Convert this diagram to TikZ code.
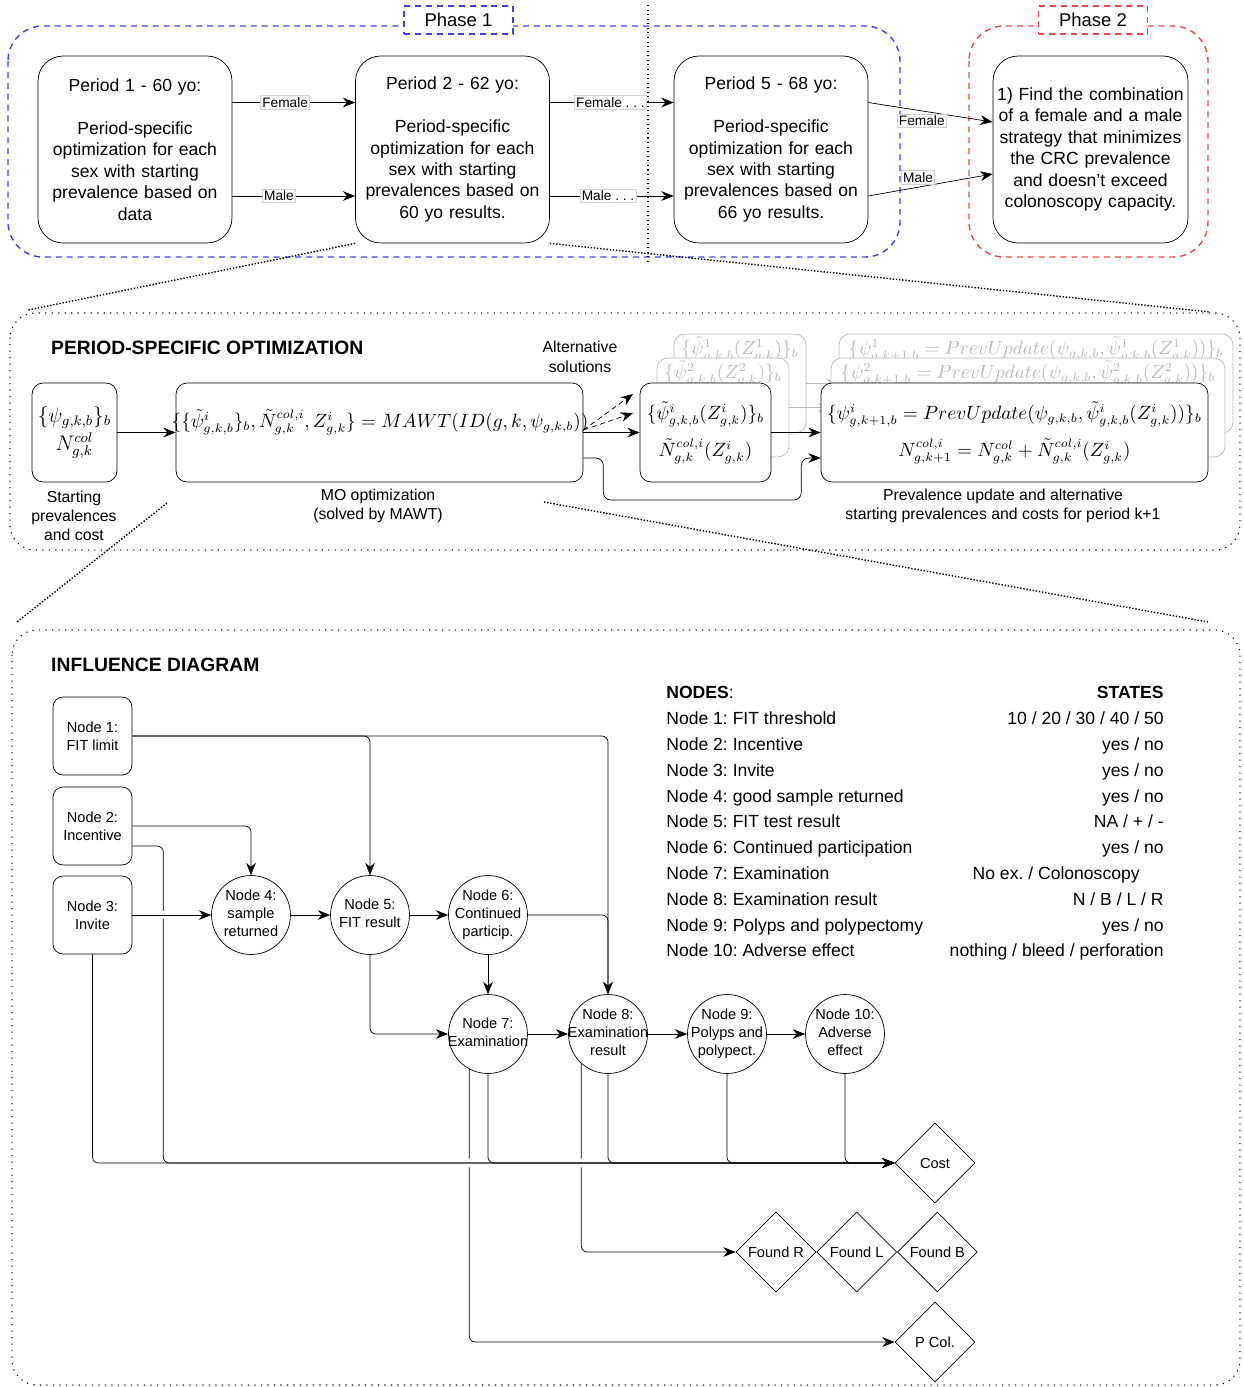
\documentclass[tikz,border=0pt]{standalone}
\usepackage[no-math]{fontspec}
\setmainfont{Liberation Sans}
\usetikzlibrary{shapes.geometric,arrows.meta,positioning}
\frenchspacing

\definecolor{phaseblue}{RGB}{64,64,235}
\definecolor{phasered}{RGB}{235,72,72}
\newcommand{\ctxt}[1]{\makebox[0pt]{\begin{tabular}{@{}c@{}}#1\end{tabular}}}

\begin{document}
\begin{tikzpicture}[x=0.02cm,y=-0.02cm,
  >={Stealth[length=7pt,width=5.5pt]},
  every node/.style={font=\fontsize{10}{12.2}\selectfont},
  period/.style={draw,rounded corners=0.5cm,minimum width=3.88cm,minimum height=3.74cm,text width=3.6cm,align=center},
  tag/.style={fill=white,draw=gray!35,inner sep=1pt,font=\fontsize{7.8}{9}\selectfont},
  phasebox/.style={dash pattern=on 3.4pt off 2.8pt,rounded corners=0.7cm,thick},
  phasetag/.style={draw,dash pattern=on 3.4pt off 2.8pt,thick,fill=white,minimum width=2.18cm,minimum height=0.56cm,font=\fontsize{10.5}{12}\selectfont},
  frame/.style={dash pattern=on 0.1pt off 3.6pt,line cap=round,thick,rounded corners=0.5cm},
  zoomline/.style={densely dotted,thick},
  mbox/.style={draw,rounded corners=0.22cm,minimum height=1.98cm,fill=white,align=center},
  ghost/.style={mbox,draw=gray!55},
  eq/.style={font=\fontsize{10.7}{21}\selectfont},
  capt/.style={align=center,font=\fontsize{9}{11}\selectfont},
  title/.style={anchor=west,font=\bfseries\fontsize{11}{13}\selectfont},
  inode/.style={draw,rounded corners=0.2cm,minimum width=1.58cm,minimum height=1.56cm,align=center,font=\fontsize{8.3}{10.2}\selectfont},
  cnode/.style={draw,circle,minimum size=1.58cm,inner sep=0pt,font=\fontsize{8.3}{10.2}\selectfont},
  dnode/.style={draw,diamond,minimum size=1.6cm,inner sep=0pt,font=\fontsize{8.3}{10.2}\selectfont},
  wire/.style={->,rounded corners=0.12cm},
  gap/.style={preaction={draw=white,line width=5pt,-,shorten <=8pt,shorten >=12pt}},
  nrow/.style={anchor=base west,inner sep=0pt},
  stval/.style={anchor=base east,inner sep=0pt}
]
\useasboundingbox (0,0) rectangle (1244,1387);

% --- Phase 1 / Phase 2 ---
\draw[phasebox,draw=phaseblue] (8,26) rectangle (900,257);
\draw[phasebox,draw=phasered] (969,26) rectangle (1208,257);
\node[phasetag,draw=phaseblue] (ph1) at (458.5,20) {Phase 1};
\node[phasetag,draw=phasered] (ph2) at (1093,20) {Phase 2};
\draw[dotted,semithick] (648,5) -- (648,265);

\node[period] (p1) at (135,149.5) {Period 1 - 60 yo:\\[12.2pt]Period-specific\\optimization for each\\sex with starting\\prevalence based on\\data};
\node[period] (p2) at (452.5,149.5) {Period 2 - 62 yo:\\[12.2pt]Period-specific\\optimization for each\\sex with starting\\prevalences based on\\60 yo results.};
\node[period] (p5) at (771,149.5) {Period 5 - 68 yo:\\[12.2pt]Period-specific\\optimization for each\\sex with starting\\prevalences based on\\66 yo results.};
\node[period,text width=3.75cm,inner sep=2pt,minimum width=3.9cm] (goal) at (1090.5,149.5) {1) Find the combination\\of a female and a male\\strategy that minimizes\\the CRC prevalence\\and doesn't exceed\\colonoscopy capacity.};

\draw[->] ([yshift=0.94cm]p1.east) -- node[tag,pos=0.43] (f12) {Female} ([yshift=0.94cm]p2.west);
\draw[->] ([yshift=-0.93cm]p1.east) -- node[tag,pos=0.38] (m12) {Male} ([yshift=-0.93cm]p2.west);
\draw[->] ([yshift=0.94cm]p2.east) -- node[tag,pos=0.49] (f25) {Female . . .} ([yshift=0.94cm]p5.west);
\draw[->] ([yshift=-0.93cm]p2.east) -- node[tag,pos=0.47] (m25) {Male . . .} ([yshift=-0.93cm]p5.west);
\draw[->] ([yshift=0.94cm]p5.east) -- node[tag,pos=0.43,yshift=-0.2cm] (fgoal) {Female} ([yshift=0.55cm]goal.west);
\draw[->] ([yshift=-0.93cm]p5.east) -- node[tag,pos=0.4,yshift=0.2cm] (mgoal) {Male} ([yshift=-0.49cm]goal.west);

% --- zoom ---
\draw[zoomline] (p2.south west) -- (28,310);
\draw[zoomline] (p2.south east) -- (1210,312);

% --- Period-specific optimization ---
\draw[frame] (10,313) rectangle (1240,550);
\node[title] (psotitle) at (45,348) {PERIOD-SPECIFIC OPTIMIZATION};
\node[capt] (altcap) at (580,357) {Alternative\\solutions};

\node[mbox,minimum width=1.66cm,font=\fontsize{11.5}{16}\selectfont] (start) at (74.5,432.5) {$\{\psi_{g,k,b}\}_b$\\$N^{col}_{g,k}$};
\node[capt] (startcap) at (74,516) {Starting\\prevalences\\and cost};

\node[mbox,minimum width=8.14cm] (mo) at (379.5,432.5) {};
\node[eq] (moeq) at (380,422) {$\{\{\tilde{\psi}^{i}_{g,k,b}\}_b,\tilde{N}^{col,i}_{g,k},Z^i_{g,k}\}=MAWT(ID(g,k,\psi_{g,k,b}))$};
\node[capt] (mocap) at (378,506) {MO optimization\\(solved by MAWT)};

% alternative soluzioni (in grigio)
\node[ghost,minimum width=2.64cm] (sol1) at (740,383.5) {};
\node[eq,text=gray!55] (sol1eq) at (740,349) {$\{\tilde{\psi}^{1}_{g,k,b}(Z^1_{g,k})\}_b$};
\node[ghost,minimum width=7.88cm] (upd1) at (1036,383.5) {};
\node[eq,text=gray!55] (upd1eq) at (1036,349) {$\{\psi^{1}_{g,k+1,b}=PrevUpdate(\psi_{g,k,b},\tilde{\psi}^{1}_{g,k,b}(Z^1_{g,k}))\}_b$};
\draw[->,gray!55] (sol1.east) -- (upd1.west);
\node[ghost,minimum width=2.64cm] (sol2) at (723,407.5) {};
\node[eq,text=gray!55] (sol2eq) at (723,373) {$\{\tilde{\psi}^{2}_{g,k,b}(Z^2_{g,k})\}_b$};
\node[ghost,minimum width=7.88cm] (upd2) at (1028,407.5) {};
\node[eq,text=gray!55] (upd2eq) at (1028,373) {$\{\psi^{2}_{g,k+1,b}=PrevUpdate(\psi_{g,k,b},\tilde{\psi}^{2}_{g,k,b}(Z^2_{g,k}))\}_b$};
\draw[->,gray!55] (sol2.east) -- (upd2.west);

\node[mbox,eq,minimum width=2.62cm] (sol) at (705.5,432.5) {$\{\tilde{\psi}^{i}_{g,k,b}(Z^i_{g,k})\}_b$\\$\tilde{N}^{col,i}_{g,k}(Z^i_{g,k})$};
\node[mbox,eq,minimum width=7.74cm] (upd) at (1014.5,432.5) {$\{\psi^{i}_{g,k+1,b}=PrevUpdate(\psi_{g,k,b},\tilde{\psi}^{i}_{g,k,b}(Z^i_{g,k}))\}_b$\\$N^{col,i}_{g,k+1}=N^{col}_{g,k}+\tilde{N}^{col,i}_{g,k}(Z^i_{g,k})$};
\node[capt] (updcap) at (1003,506) {Prevalence update and alternative\\starting prevalences and costs for period k+1};

\coordinate (alt1) at (633,394);
\coordinate (alt2) at (633,413);
\draw[->] (start.east) -- (mo.west);
\draw[->] (mo.east) -- (sol.west);
\draw[->,densely dashed] ([yshift=0.05cm]mo.east) -- (alt1);
\draw[->,densely dashed] ([yshift=0.05cm]mo.east) -- (alt2);
\draw[->] (sol.east) -- (upd.west);
\draw[->,rounded corners=0.15cm] ([yshift=-0.51cm]mo.east) -- ++(20,0) -- ++(0,42) -- ++(198,0) -- ++(0,-42) -- ([yshift=-0.51cm]upd.west);

% --- zoom ---
\draw[zoomline] (167,503) -- (17,622);
\draw[zoomline] (544,502) -- (1208,622);

% --- Influence diagram ---
\draw[frame] (12,630) rectangle (1240,1385);
\node[title] (idtitle) at (45,665) {INFLUENCE DIAGRAM};

\node[nrow] (hnodes) at (666,698) {\textbf{NODES}:};
\node[stval] (hstates) at (1164,698) {\textbf{STATES}};
\node[nrow] (r1) at (666,724) {Node 1: FIT threshold};
\node[stval] (s1) at (1164,724) {10 / 20 / 30 / 40 / 50};
\node[nrow] (r2) at (666,750) {Node 2: Incentive};
\node[stval] (s2) at (1164,750) {yes / no};
\node[nrow] (r3) at (666,776) {Node 3: Invite};
\node[stval] (s3) at (1164,776) {yes / no};
\node[nrow] (r4) at (666,802) {Node 4: good sample returned};
\node[stval] (s4) at (1164,802) {yes / no};
\node[nrow] (r5) at (666,827) {Node 5: FIT test result};
\node[stval] (s5) at (1164,827) {NA / + / -};
\node[nrow] (r6) at (666,853) {Node 6: Continued participation};
\node[stval] (s6) at (1164,853) {yes / no};
\node[nrow] (r7) at (666,879) {Node 7: Examination};
\node[stval] (s7) at (1140,879) {No ex. / Colonoscopy};
\node[nrow] (r8) at (666,905) {Node 8: Examination result};
\node[stval] (s8) at (1164,905) {N / B / L / R};
\node[nrow] (r9) at (666,931) {Node 9: Polyps and polypectomy};
\node[stval] (s9) at (1164,931) {yes / no};
\node[nrow] (r10) at (666,956) {Node 10: Adverse effect};
\node[stval] (s10) at (1164,956) {nothing / bleed / perforation};

\node[inode] (n1) at (92.5,736) {Node 1:\\FIT limit};
\node[inode] (n2) at (92.5,826) {Node 2:\\Incentive};
\node[inode] (n3) at (92.5,915) {Node 3:\\Invite};
\node[cnode] (n4) at (251,915) {\ctxt{Node 4:\\sample\\returned}};
\node[cnode] (n5) at (370,915) {\ctxt{Node 5:\\FIT result}};
\node[cnode] (n6) at (488,915) {\ctxt{Node 6:\\Continued\\particip.}};
\node[cnode] (n7) at (488,1034) {\ctxt{Node 7:\\Examination}};
\node[cnode] (n8) at (608,1034) {\ctxt{Node 8:\\Examination\\result}};
\node[cnode] (n9) at (727,1034) {\ctxt{Node 9:\\Polyps and\\polypect.}};
\node[cnode] (n10) at (845,1034) {\ctxt{Node 10:\\Adverse\\effect}};
\node[dnode] (cost) at (935,1163) {Cost};
\node[dnode] (fr) at (776,1252) {Found R};
\node[dnode,right=0pt of fr] (fl) {Found L};
\node[dnode,right=0pt of fl] (fb) {Found B};
\node[dnode] (pcol) at (935,1342) {P Col.};

\draw[wire] (n1.east) -| (n5.north);
\draw[wire] (n1.east) -| (n8.north);
\draw[wire] (n2.east) -| (n4.north);
\draw[wire] (n4.east) -- (n5.west);
\draw[wire] (n5.east) -- (n6.west);
\draw[wire] (n6.south) -- (n7.north);
\draw[wire] (n6.east) -| (n8.north);
\draw[wire] (n5.south) |- (n7.west);
\draw[wire] (n7.east) -- (n8.west);
\draw[wire] (n8.east) -- (n9.west);
\draw[wire] (n9.east) -- (n10.west);
\draw[wire] (n7.242) |- (pcol.west);
\draw[wire] (n8.228) |- (fr.west);
\draw[wire,gap] (n3.south) |- (cost.west);
\draw[wire] ([yshift=-0.4cm]n2.east) -- ++(31,0) |- (cost.west);
\draw[wire,gap] (n3.east) -- (n4.west);
\draw[wire] (n7.south) |- (cost.west);
\draw[wire] (n8.south) |- (cost.west);
\draw[wire] (n9.south) |- (cost.west);
\draw[wire] (n10.south) |- (cost.west);

\end{tikzpicture}
\end{document}
